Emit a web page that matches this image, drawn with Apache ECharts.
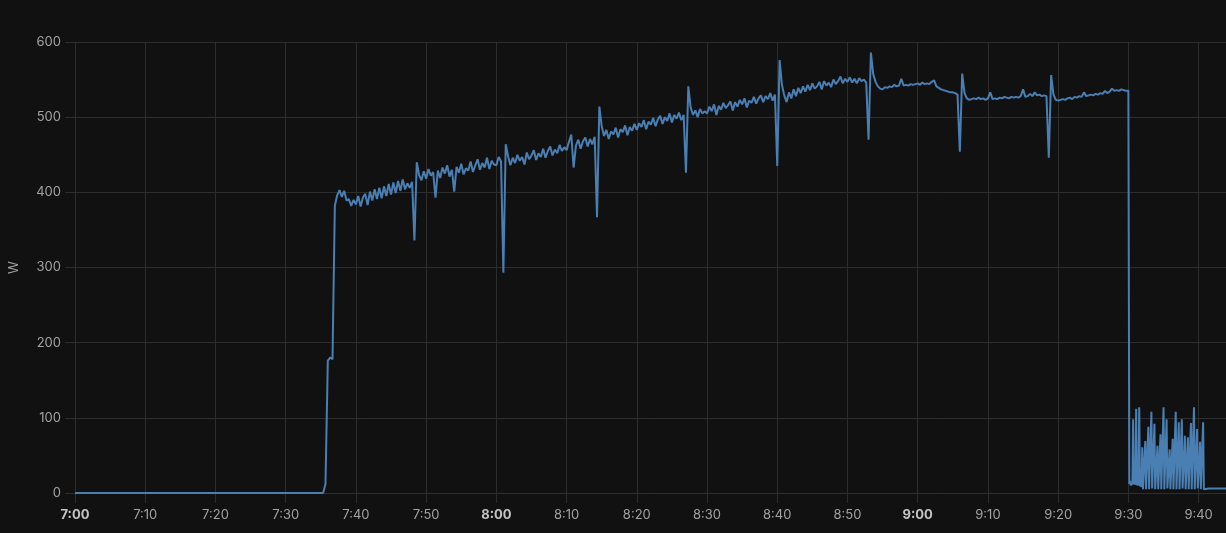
<!DOCTYPE html>
<html>
<head>
<meta charset="utf-8">
<script src="https://cdn.jsdelivr.net/npm/echarts@6/dist/echarts.min.js"></script>
<style>
  html, body { margin: 0; padding: 0; background: #111111; }
  #main { width: 1226px; height: 533px; }
</style>
</head>
<body>
<div id="main"></div>
<script>
// power readings, each block: start time, step in seconds, watts
const idleStart = "07:00:00", idleStep = 300;
const idleWatts = [0, 0, 0, 0, 0, 0, 0, 0];

const runStart = "07:35:20", runStep = 20;
const runWatts = [
  0, 12, 176, 180, 178, 382, 396, 403, 394, 402, 389, 391, 382, 390,
  384, 395, 381, 393, 398, 383, 401, 389, 404, 391, 406, 392, 408, 395, 411, 397, 413, 399, 415, 402, 417, 404, 412, 406, 414, 336, 440, 423, 416, 428,
  418, 431, 422, 427, 393, 429, 419, 433, 425, 436, 421, 430, 401, 434, 426, 438, 424, 432, 429, 441, 427, 436, 444, 430, 439, 433, 446, 431, 442, 437,
  436, 447, 441, 293, 464, 448, 436, 446, 439, 450, 442, 447, 437, 453, 444, 449, 456, 443, 452, 447, 458, 446, 455, 461, 449, 457, 452, 463, 455, 460,
  456, 467, 477, 433, 462, 470, 458, 468, 473, 461, 471, 464, 474, 367, 514, 488, 475, 483, 471, 481, 477, 486, 473, 484, 480, 489, 476, 487, 482, 491,
  483, 492, 487, 496, 484, 494, 490, 499, 488, 497, 502, 491, 500, 495, 505, 493, 503, 498, 506, 496, 503, 426, 541, 513, 503, 509, 500, 511, 505, 508,
  505, 514, 508, 517, 503, 515, 510, 519, 512, 516, 521, 509, 520, 514, 523, 517, 525, 513, 522, 519, 527, 518, 525, 529, 520, 528, 524, 532, 522, 530,
  435, 576, 543, 529, 520, 533, 525, 537, 528, 539, 532, 541, 534, 543, 536, 545, 538, 541, 547, 537, 548, 542, 546, 540, 550, 544, 548, 554, 545, 551,
  547, 553, 546, 551, 545, 552, 548, 550, 546, 470, 586, 557, 547, 541, 538, 537, 540, 539, 541, 540, 543, 541, 542, 551, 542, 543, 542, 544, 543, 544,
  545, 543, 546, 544, 545, 544, 547, 549, 541, 539, 537, 536, 535, 534, 533, 533, 532, 530, 454, 558, 532, 525, 523, 524, 525, 524, 526, 524, 525, 523,
  525, 533, 524, 525, 524, 526, 525, 527, 526, 525, 527, 526, 527, 526, 528, 537, 527, 528, 531, 528, 533, 529, 530, 528, 529, 528, 446, 556, 530, 523,
  522, 523, 524, 523, 525, 526, 524, 527, 526, 528, 527, 533, 528, 529, 530, 529, 531, 530, 532, 531, 535, 532, 534, 538, 535, 536, 535, 537, 536, 535, 535
];

const tailStart = "09:30:08", tailStep = 6.5;
const tailWatts = [
  12, 16, 10, 14, 11, 98,
  12, 15, 11, 112, 13, 10, 14, 114, 9, 12, 8, 61, 5, 5, 6, 69,
  5, 6, 5, 88, 5, 5, 5, 108, 6, 5, 5, 92, 5, 5, 6, 63,
  5, 5, 5, 78, 5, 6, 5, 114, 5, 5, 5, 98, 6, 5, 5, 58,
  5, 5, 6, 72, 5, 5, 5, 108, 5, 6, 5, 94, 5, 5, 5, 98,
  6, 5, 5, 76, 5, 5, 6, 74, 5, 5, 5, 93, 5, 6, 5, 114,
  5, 5, 5, 85, 6, 5, 5, 68, 5, 5, 6, 94, 5, 6, 6
];

const offStart = "09:41:30", offStep = 120;
const offWatts = [6, 6, 6];

const axisStart = "07:00:00", axisEnd = "09:43:54";
const yMax = 600, yStep = 100;

function toMin(s) {
  const p = s.split(":").map(Number);
  return p[0] * 60 + p[1] + (p[2] || 0) / 60;
}
const base = toMin(axisStart);

function block(start, step, vals) {
  const t0 = toMin(start) - base;
  return vals.map((v, i) => [t0 + (i * step) / 60, v]);
}

const data = [].concat(
  block(idleStart, idleStep, idleWatts),
  block(runStart, runStep, runWatts),
  block(tailStart, tailStep, tailWatts),
  block(offStart, offStep, offWatts)
);

const gridColor = "#2d2d2d";
const textColor = "#a3a3a3";
const fontFamily = "Inter, Roboto, sans-serif";

var chartDom = document.getElementById("main");
var myChart = echarts.init(chartDom, null, { renderer: "canvas" });

var option = {
  backgroundColor: "#111111",
  animation: false,
  grid: { left: 72, right: 0, top: 42, bottom: 40, containLabel: false },
  xAxis: {
    type: "value",
    min: 0,
    max: toMin(axisEnd) - base,
    interval: 10,
    axisLine: { show: true, lineStyle: { color: gridColor } },
    axisTick: { show: true, length: 10, lineStyle: { color: gridColor } },
    splitLine: { show: true, lineStyle: { color: gridColor, width: 1 } },
    axisLabel: {
      margin: 16,
      color: textColor,
      fontSize: 13,
      fontFamily: fontFamily,
      showMaxLabel: false,
      formatter: function (v) {
        const tot = Math.round(base + v);
        const h = Math.floor(tot / 60);
        const m = tot % 60;
        const s = h + ":" + (m < 10 ? "0" + m : m);
        return m === 0 ? "{b|" + s + "}" : s;
      },
      rich: {
        b: { fontWeight: "bold", color: "#c4c4c4", fontSize: 13, fontFamily: fontFamily },
      },
    },
  },
  yAxis: {
    type: "value",
    min: 0,
    max: yMax,
    interval: yStep,
    name: "W",
    nameLocation: "middle",
    nameGap: 54,
    nameTextStyle: { color: textColor, fontSize: 13, fontFamily: fontFamily },
    axisLine: { show: true, lineStyle: { color: gridColor } },
    axisTick: { show: true, length: 10, lineStyle: { color: gridColor } },
    splitLine: { show: true, lineStyle: { color: gridColor, width: 1 } },
    axisLabel: { margin: 14, color: textColor, fontSize: 13, fontFamily: fontFamily },
  },
  series: [
    {
      name: "W",
      type: "line",
      data: data,
      showSymbol: false,
      symbol: "none",
      lineStyle: { color: "#4a7fb3", width: 2 },
      itemStyle: { color: "#4a7fb3" },
    },
  ],
};

option && myChart.setOption(option);
</script>
</body>
</html>
